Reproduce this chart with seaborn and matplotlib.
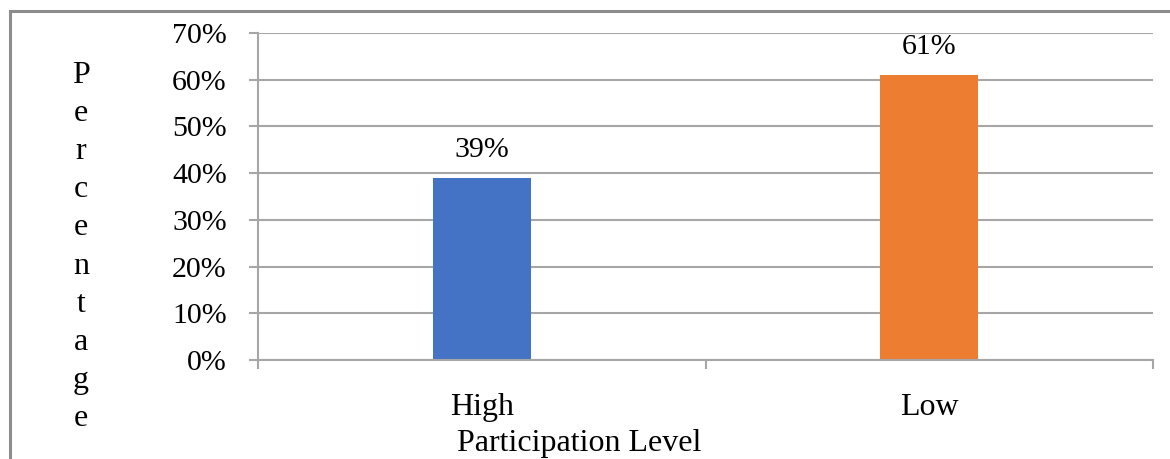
import matplotlib
matplotlib.use("Agg")
import matplotlib.pyplot as plt
import matplotlib.patches as mpatches
from matplotlib.ticker import FixedLocator, PercentFormatter
import seaborn as sns
import pandas as pd

# Chart data
levels = ["High", "Low"]
percentages = [39, 61]
bar_colors = ["#4472C4", "#ED7D31"]
y_ticks = [0, 10, 20, 30, 40, 50, 60, 70]

sns.set_theme(style="white")
plt.rcParams["font.family"] = ["Liberation Serif", "DejaVu Serif"]
plt.rcParams["font.size"] = 21.5
plt.rcParams["text.color"] = "black"

df = pd.DataFrame({"level": levels, "pct": percentages})

fig = plt.figure(figsize=(11.70, 4.59), dpi=100)
ax = fig.add_axes([258 / 1170, 99 / 459, (1153 - 258) / 1170, (360 - 33) / 459])

sns.barplot(data=df, x="level", y="pct", hue="level", palette=bar_colors,
            width=0.22, legend=False, ax=ax, saturation=1, linewidth=0)

ax.set_xlim(-0.5, 1.5)
ax.set_ylim(0, 70)
ax.set_yticks(y_ticks)
ax.yaxis.set_major_formatter(PercentFormatter(decimals=0))

grid_color = "#a6a6a6"
ax.grid(axis="y", color=grid_color, linewidth=1.5)
ax.set_axisbelow(True)
for side in ["top", "right"]:
    ax.spines[side].set_visible(False)
for side in ["left", "bottom"]:
    ax.spines[side].set_color(grid_color)
    ax.spines[side].set_linewidth(1.5)

# Category separators on the x axis
ax.xaxis.set_minor_locator(FixedLocator([-0.5, 0.5, 1.5]))
ax.tick_params(axis="x", which="major", bottom=True, length=0, pad=24, labelsize=23,
               labelcolor="black")
ax.tick_params(axis="x", which="minor", bottom=True, length=6.5, width=1.5,
               color=grid_color, direction="out")
ax.tick_params(axis="y", left=True, length=6.5, width=1.5, color=grid_color,
               direction="out", pad=16, labelsize=21.5, labelcolor="black")

ax.set_xlabel("")
ax.set_ylabel("")

for cont in ax.containers:
    ax.bar_label(cont, labels=[f"{v:.0f}%" for v in cont.datavalues], padding=11,
                 fontsize=21.5, color="black")

# Stacked vertical axis title and x-axis title
fig.text(81 / 1170, 1 - 247 / 459, "\n".join("Percentage"), ha="center", va="center",
         fontsize=23, linespacing=1.41, color="black")
fig.text(579 / 1170, 1 - 444 / 459, "Participation Level", ha="center", va="center",
         fontsize=23, color="black")

# Outer frame
frame = mpatches.Rectangle((9.5 / 1170, -0.1), 1.2, 1 - 11 / 459 + 0.1,
                           transform=fig.transFigure, fill=False,
                           edgecolor="#8c8c8c", linewidth=2.2, clip_on=False)
fig.patches.append(frame)

fig.savefig("out.png", dpi=100)
